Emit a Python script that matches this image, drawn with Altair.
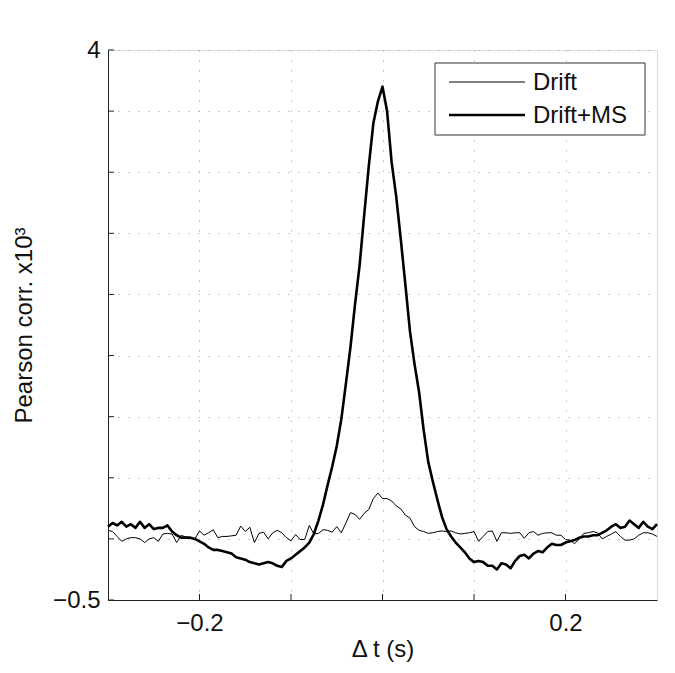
import altair as alt
import pandas as pd

t = [round(-0.3 + 0.005 * i, 3) for i in range(121)]

drift = [
    0.07, 0.06, 0.02, -0.02, 0.00, 0.01, 0.01, 0.00, -0.03, 0.00,
    0.01, -0.02, 0.04, 0.045, 0.04, -0.03, 0.03, 0.015, 0.01, 0.00,
    0.065, 0.03, 0.05, 0.075, 0.01, 0.02, 0.02, 0.025, 0.03, 0.105,
    0.06, 0.095, -0.03, 0.045, 0.055, 0.00, 0.05, 0.07, 0.05, 0.01,
    -0.015, 0.035, -0.005, -0.005, 0.11, 0.04, 0.045, 0.075, 0.07, 0.055,
    0.10, 0.05, 0.13, 0.215, 0.20, 0.16, 0.21, 0.24, 0.33, 0.375,
    0.33, 0.33, 0.31, 0.27, 0.245, 0.195, 0.17, 0.10, 0.07, 0.06,
    0.045, 0.05, 0.06, 0.065, 0.06, 0.065, 0.05, 0.04, 0.045, 0.05,
    0.06, -0.02, 0.02, 0.06, 0.065, -0.02, 0.05, 0.05, 0.045, 0.05,
    0.05, 0.005, 0.05, 0.06, 0.03, 0.045, 0.05, 0.05, 0.03, 0.03,
    -0.005, -0.01, -0.04, 0.00, 0.045, 0.05, 0.06, 0.05, 0.00, 0.02,
    0.04, 0.06, 0.02, -0.01, -0.01, 0.00, 0.03, 0.05, 0.05, 0.04,
    0.02,
]

drift_ms = [
    0.10, 0.13, 0.11, 0.14, 0.10, 0.12, 0.09, 0.14, 0.09, 0.12,
    0.08, 0.09, 0.09, 0.11, 0.06, 0.03, 0.01, 0.01, 0.01, 0.00,
    -0.02, -0.04, -0.07, -0.09, -0.09, -0.10, -0.11, -0.12, -0.15, -0.16,
    -0.17, -0.19, -0.20, -0.21, -0.20, -0.19, -0.20, -0.22, -0.23, -0.18,
    -0.16, -0.13, -0.10, -0.07, -0.03, 0.04, 0.15, 0.28, 0.44, 0.59,
    0.76, 0.98, 1.27, 1.57, 1.92, 2.24, 2.65, 3.05, 3.40, 3.58,
    3.70, 3.50, 3.08, 2.80, 2.45, 2.08, 1.70, 1.43, 1.20, 0.89,
    0.63, 0.47, 0.32, 0.18, 0.08, 0.02, -0.03, -0.07, -0.11, -0.16,
    -0.19, -0.18, -0.19, -0.22, -0.22, -0.25, -0.20, -0.21, -0.24, -0.18,
    -0.14, -0.13, -0.16, -0.12, -0.10, -0.11, -0.07, -0.04, -0.05, -0.05,
    -0.03, -0.02, -0.01, 0.01, 0.02, 0.02, 0.03, 0.03, 0.05, 0.07,
    0.10, 0.12, 0.09, 0.10, 0.15, 0.12, 0.09, 0.14, 0.10, 0.08,
    0.12,
]

series_names = ["Drift", "Drift+MS"]
series_widths = [1.0, 2.6]
x_ticks = [-0.2, -0.1, 0.0, 0.1, 0.2]
y_ticks = [-0.5, 0.0, 0.5, 1.0, 1.5, 2.0, 2.5, 3.0, 3.5, 4.0]

df = pd.DataFrame({
    "t": t + t,
    "v": drift + drift_ms,
    "series": [series_names[0]] * len(t) + [series_names[1]] * len(t),
})

FONT = "Liberation Sans"
FS = 24

xs = alt.Scale(domain=[-0.3, 0.3], nice=False, zero=False)
ys = alt.Scale(domain=[-0.5, 4.0], nice=False, zero=False)

x_axis = alt.Axis(
    values=x_ticks,
    labelExpr="abs(datum.value) > 0.15 ? (datum.value < 0 ? '\u22120.2' : '0.2') : ''",
    title="\u0394 t (s)",
    grid=True, gridDash=[1, 9], gridColor="#999999", gridWidth=1,
    tickSize=0, labelPadding=11, titlePadding=2,
    labelFontSize=FS, titleFontSize=FS, titleFontWeight="normal",
    labelFont=FONT, titleFont=FONT, labelColor="#111", titleColor="#111",
    domainColor="#222", domainWidth=1, labelFlush=False, labelOverlap=False,
)
y_axis = alt.Axis(
    values=y_ticks,
    labelExpr="datum.value == -0.5 ? '\u22120.5' : (datum.value == 4 ? '4' : '')",
    title="Pearson corr. x10\u00b3",
    grid=True, gridDash=[1, 9], gridColor="#999999", gridWidth=1,
    tickSize=0, labelPadding=8, titlePadding=16,
    labelFontSize=FS, titleFontSize=FS, titleFontWeight="normal",
    labelFont=FONT, titleFont=FONT, labelColor="#111", titleColor="#111",
    domainColor="#222", domainWidth=1, labelFlush=False, labelOverlap=False,
)

lines = alt.Chart(df).mark_line(color="black", strokeJoin="round").encode(
    x=alt.X("t:Q", scale=xs, axis=x_axis),
    y=alt.Y("v:Q", scale=ys, axis=y_axis),
    detail="series:N",
    strokeWidth=alt.StrokeWidth(
        "series:N",
        scale=alt.Scale(domain=series_names, range=series_widths),
        legend=None,
    ),
)

xt = alt.Chart(pd.DataFrame({"t": x_ticks})).mark_rule(color="#222").encode(
    x=alt.X("t:Q", scale=xs), y=alt.value(550), y2=alt.value(544)
)
yt = alt.Chart(pd.DataFrame({"v": y_ticks})).mark_rule(color="#222").encode(
    y=alt.Y("v:Q", scale=ys), x=alt.value(0), x2=alt.value(6)
)

# legend box
box = alt.Chart(pd.DataFrame({"k": [0]})).mark_rect(
    fill="white", stroke="#333", strokeWidth=1
).encode(x=alt.value(327), x2=alt.value(537), y=alt.value(13), y2=alt.value(85))

legend_layers = [box]
row_y = [32, 65]
for name, w, yy in zip(series_names, series_widths, row_y):
    ld = pd.DataFrame({"label": [name]})
    legend_layers.append(
        alt.Chart(ld).mark_rule(color="black", strokeWidth=w).encode(
            x=alt.value(341), x2=alt.value(417), y=alt.value(yy)
        )
    )
    legend_layers.append(
        alt.Chart(ld).mark_text(
            align="left", baseline="middle", font=FONT, fontSize=FS, color="#111"
        ).encode(x=alt.value(425), y=alt.value(yy + 1), text="label:N")
    )

chart = alt.layer(lines, xt, yt, *legend_layers).properties(
    width=549, height=550,
    padding={"left": 100, "top": 42, "right": 8, "bottom": 66},
    autosize=alt.AutoSizeParams(type="none"),
).configure_view(stroke=None).configure(background="white")

chart.save("out.html", embed_options={"renderer": "svg", "actions": False})
